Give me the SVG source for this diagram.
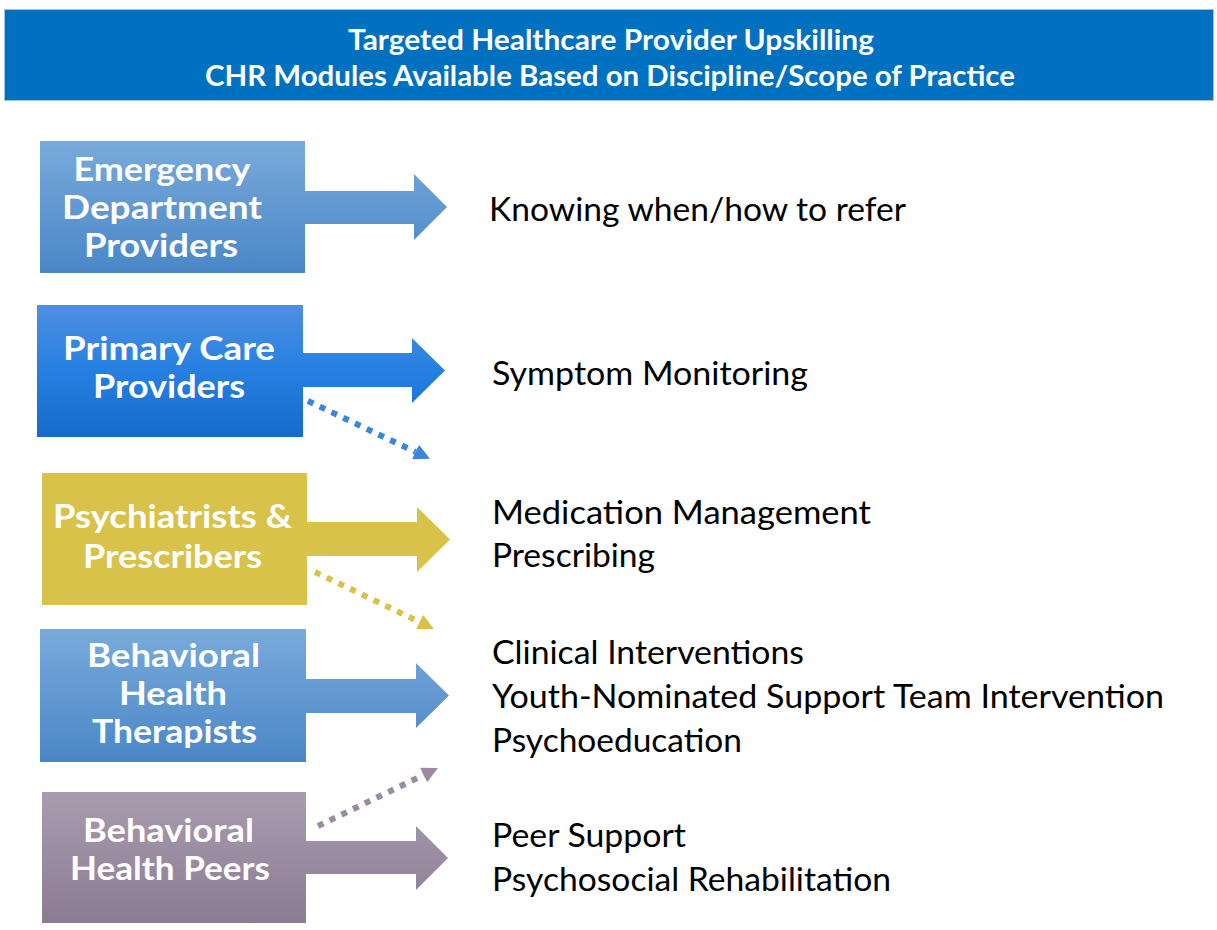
<svg xmlns="http://www.w3.org/2000/svg" width="1217" height="930" viewBox="0 0 1217 930">
  <style>
    .title { font-family: Lato, "Open Sans", sans-serif; font-weight: bold; font-size: 28px; fill: #ffffff; text-anchor: middle; }
    .label { font-family: Lato, "Open Sans", sans-serif; font-weight: bold; font-size: 33px; fill: #ffffff; text-anchor: middle; }
    .item { font-family: Lato, "Open Sans", sans-serif; font-size: 32px; fill: #000000; }
    .dash { fill: none; stroke-width: 6; stroke-dasharray: 6 7; }
  </style>
  <defs>
    <linearGradient id="gSky" x1="0" y1="0" x2="0" y2="1">
      <stop offset="0" stop-color="#79AADB"/>
      <stop offset="1" stop-color="#4A87C7"/>
    </linearGradient>
    <linearGradient id="gBlue" x1="0" y1="0" x2="0" y2="1">
      <stop offset="0" stop-color="#4F8EE0"/>
      <stop offset="0.5" stop-color="#2580E2"/>
      <stop offset="1" stop-color="#176ACA"/>
    </linearGradient>
    <linearGradient id="gMauve" x1="0" y1="0" x2="0" y2="1">
      <stop offset="0" stop-color="#A99CAF"/>
      <stop offset="1" stop-color="#8C7C92"/>
    </linearGradient>
    <marker id="headBlue" markerUnits="userSpaceOnUse" markerWidth="17" markerHeight="16" refX="0" refY="8" orient="auto">
      <path d="M0,0 L16,8 L0,16 Z" fill="#3A86DE"/>
    </marker>
    <marker id="headGold" markerUnits="userSpaceOnUse" markerWidth="17" markerHeight="16" refX="0" refY="8" orient="auto">
      <path d="M0,0 L16,8 L0,16 Z" fill="#D8C24A"/>
    </marker>
    <marker id="headMauve" markerUnits="userSpaceOnUse" markerWidth="17" markerHeight="16" refX="0" refY="8" orient="auto">
      <path d="M0,0 L16,8 L0,16 Z" fill="#9B8BA0"/>
    </marker>
  </defs>

  <rect width="1217" height="930" fill="#ffffff"/>

  <!-- header banner -->
  <g id="header">
    <rect x="4.5" y="9.5" width="1209" height="91" fill="#0070C0" stroke="#9DC3E6" stroke-width="1"/>
    <text class="title" x="611" y="50" textLength="526" lengthAdjust="spacingAndGlyphs">Targeted Healthcare Provider Upskilling</text>
    <text class="title" x="610" y="86" textLength="810" lengthAdjust="spacingAndGlyphs">CHR Modules Available Based on Discipline/Scope of Practice</text>
  </g>

  <!-- provider arrow callouts -->
  <g id="emergency">
    <path d="M40,141 H305 V191 H414 V174 L447,207 L414,240 V224 H305 V273 H40 Z" fill="url(#gSky)"/>
    <text class="label" x="162" y="181" textLength="177" lengthAdjust="spacingAndGlyphs">Emergency</text>
    <text class="label" x="162" y="219" textLength="200" lengthAdjust="spacingAndGlyphs">Department</text>
    <text class="label" x="161" y="257" textLength="154" lengthAdjust="spacingAndGlyphs">Providers</text>
  </g>

  <g id="primary-care">
    <path d="M37,305 H303 V353 H412 V338 L445,370.5 L412,403 V387 H303 V437 H37 Z" fill="url(#gBlue)"/>
    <text class="label" x="169" y="360" textLength="212" lengthAdjust="spacingAndGlyphs">Primary Care</text>
    <text class="label" x="169" y="398" textLength="152" lengthAdjust="spacingAndGlyphs">Providers</text>
  </g>

  <g id="psychiatrists">
    <path d="M42,473 H307 V522 H417 V507 L450,539.5 L417,572 V556 H307 V605 H42 Z" fill="#D9C249"/>
    <text class="label" x="172.5" y="528" textLength="239" lengthAdjust="spacingAndGlyphs">Psychiatrists &amp;</text>
    <text class="label" x="172.5" y="568" textLength="179" lengthAdjust="spacingAndGlyphs">Prescribers</text>
  </g>

  <g id="therapists">
    <path d="M40,629 H306 V679 H416 V663 L449,695.5 L416,728 V713 H306 V762 H40 Z" fill="url(#gSky)"/>
    <text class="label" x="173.5" y="667" textLength="173" lengthAdjust="spacingAndGlyphs">Behavioral</text>
    <text class="label" x="173" y="705" textLength="108" lengthAdjust="spacingAndGlyphs">Health</text>
    <text class="label" x="174.5" y="743" textLength="165" lengthAdjust="spacingAndGlyphs">Therapists</text>
  </g>

  <g id="peers">
    <path d="M42,792 H306 V841 H416 V826 L448,858 L416,890 V874 H306 V923 H42 Z" fill="url(#gMauve)"/>
    <text class="label" x="168.5" y="842" textLength="171" lengthAdjust="spacingAndGlyphs">Behavioral</text>
    <text class="label" x="170" y="880" textLength="200" lengthAdjust="spacingAndGlyphs">Health Peers</text>
  </g>

  <!-- dotted cross-links to the next module set -->
  <g id="connectors">
    <path class="dash" d="M308,401 L415.5,452" stroke="#3A86DE" marker-end="url(#headBlue)"/>
    <path class="dash" d="M315,572 L419.6,622" stroke="#D8C24A" marker-end="url(#headGold)"/>
    <path class="dash" d="M318,826 L423.6,775" stroke="#9B8BA0" marker-end="url(#headMauve)"/>
  </g>

  <!-- module lists -->
  <g id="modules-emergency">
    <text class="item" x="489" y="221" textLength="417" lengthAdjust="spacingAndGlyphs">Knowing when/how to refer</text>
  </g>
  <g id="modules-primary">
    <text class="item" x="492" y="385" textLength="316" lengthAdjust="spacingAndGlyphs">Symptom Monitoring</text>
  </g>
  <g id="modules-psychiatry">
    <text class="item" x="492" y="524" textLength="379" lengthAdjust="spacingAndGlyphs">Medication Management</text>
    <text class="item" x="492" y="567" textLength="163" lengthAdjust="spacingAndGlyphs">Prescribing</text>
  </g>
  <g id="modules-therapy">
    <text class="item" x="492" y="664" textLength="312" lengthAdjust="spacingAndGlyphs">Clinical Interventions</text>
    <text class="item" x="492" y="708" textLength="672" lengthAdjust="spacingAndGlyphs">Youth-Nominated Support Team Intervention</text>
    <text class="item" x="492" y="752" textLength="250" lengthAdjust="spacingAndGlyphs">Psychoeducation</text>
  </g>
  <g id="modules-peers">
    <text class="item" x="492" y="847" textLength="194" lengthAdjust="spacingAndGlyphs">Peer Support</text>
    <text class="item" x="492" y="891" textLength="399" lengthAdjust="spacingAndGlyphs">Psychosocial Rehabilitation</text>
  </g>
</svg>
